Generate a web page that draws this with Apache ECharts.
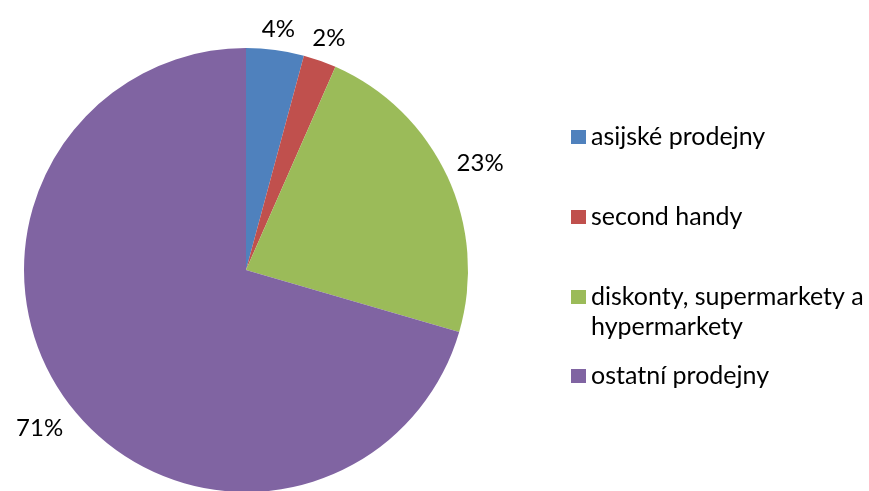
<!DOCTYPE html>
<html>
<head>
<meta charset="utf-8">
<script src="https://cdn.jsdelivr.net/npm/echarts@6/dist/echarts.min.js"></script>
<style>
  html, body { margin: 0; padding: 0; background: #fff; }
  #chart { width: 869px; height: 491px; }
</style>
</head>
<body>
<div id="chart"></div>
<script>
const categories = ['asijské prodejny', 'second handy', 'diskonty, supermarkety a hypermarkety', 'ostatní prodejny'];
const values = [4.2, 2.4, 22.9, 70.5];
const colors = ['#4F81BD', '#C0504D', '#9BBB59', '#8064A2'];
const legendTops = [122, 202, 252, 361];

const FONT = 'Lato';
const CENTER = [246, 270];
const RADIUS = 222;

const chart = echarts.init(document.getElementById('chart'));

const total = values.reduce((a, b) => a + b, 0);
// mid angle of each slice, clockwise from 12 o'clock
const midAngles = [];
let acc = 0;
values.forEach(v => {
  midAngles.push(((acc + v / 2) / total) * Math.PI * 2);
  acc += v;
});

const legends = categories.map((name, i) => {
  const multi = name.indexOf('hypermarkety') >= 0;
  return {
    data: [name],
    orient: 'vertical',
    left: 571,
    top: legendTops[i],
    padding: 0,
    itemWidth: 15,
    itemHeight: 14,
    icon: 'rect',
    selectedMode: false,
    // blank first line keeps the icon level with the first text line
    formatter: multi ? n => '\n' + n.replace(' hypermarkety', '\nhypermarkety') : undefined,
    textStyle: {
      fontFamily: FONT,
      fontSize: 25,
      color: '#000',
      lineHeight: 30
    }
  };
});

const option = {
  backgroundColor: '#fff',
  animation: false,
  color: colors,
  legend: legends,
  series: [{
    type: 'pie',
    center: CENTER,
    radius: RADIUS,
    startAngle: 90,
    clockwise: true,
    avoidLabelOverlap: false,
    data: categories.map((name, i) => ({ name, value: values[i] })),
    label: {
      show: true,
      position: 'outside',
      fontFamily: FONT,
      fontSize: 24,
      color: '#000',
      formatter: p => Math.round(p.value / total * 100) + '%'
    },
    labelLine: { show: false, length: 5, length2: 0 },
    itemStyle: { borderWidth: 0 },
    emphasis: { disabled: true },
    labelLayout: params => {
      const a = midAngles[params.dataIndex];
      const s = Math.sin(a), c = Math.cos(a);
      const w = params.labelRect.width, h = params.labelRect.height;
      const ext = Math.abs(s) * w / 2 + Math.abs(c) * h / 2;
      const d = RADIUS + 10 + ext;
      return {
        x: CENTER[0] + s * d,
        y: CENTER[1] - c * d + 3,
        align: 'center',
        verticalAlign: 'middle'
      };
    }
  }]
};

chart.setOption(option);
</script>
</body>
</html>
